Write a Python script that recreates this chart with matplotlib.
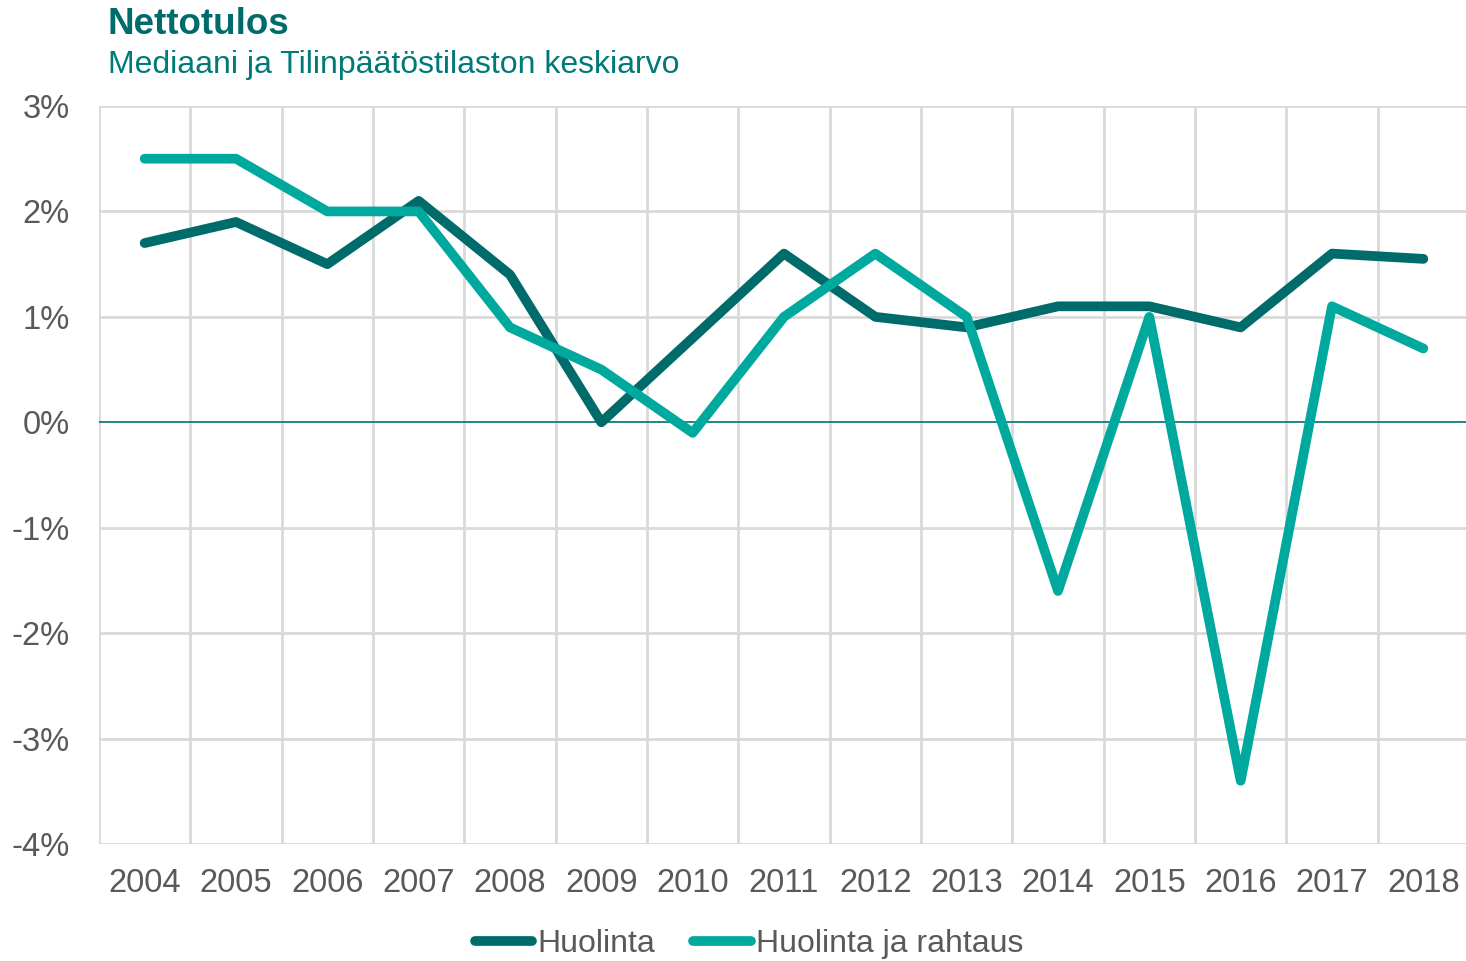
import matplotlib
matplotlib.use("Agg")
import matplotlib.pyplot as plt
from matplotlib.lines import Line2D

plt.rcParams['font.family'] = ['Liberation Sans', 'DejaVu Sans']

years = ["2004", "2005", "2006", "2007", "2008", "2009", "2010", "2011",
         "2012", "2013", "2014", "2015", "2016", "2017", "2018"]
huolinta = [1.7, 1.9, 1.5, 2.1, 1.4, 0.0, 0.8, 1.6, 1.0, 0.9, 1.1, 1.1, 0.9, 1.6, 1.55]
huolinta_rahtaus = [2.5, 2.5, 2.0, 2.0, 0.9, 0.5, -0.1, 1.0, 1.6, 1.0, -1.6, 1.0, -3.4, 1.1, 0.7]
yticks = [3, 2, 1, 0, -1, -2, -3, -4]
ytick_labels = ["3%", "2%", "1%", "0%", "-1%", "-2%", "-3%", "-4%"]

dark = "#006B6B"
light = "#00A99D"
grid_c = "#D9D9D9"
text_c = "#595959"

W, H = 1466, 961
fig = plt.figure(figsize=(W / 100, H / 100), dpi=100)
ax = fig.add_axes([99 / W, 1 - 844 / H, (1469 - 99) / W, (844 - 106) / H])

x = list(range(len(years)))
ax.set_xlim(-0.5, len(years) - 0.5)
ax.set_ylim(-4, 3)

# gridlines
for yv in yticks:
    if yv != 0:
        ax.axhline(yv, color=grid_c, lw=2, zorder=1)
for i in range(len(years)):
    ax.axvline(i - 0.5, color=grid_c, lw=2, zorder=1)
ax.axhline(0, color="#00706E", lw=1.2, zorder=2)

ax.plot(x, huolinta, color=dark, lw=7, solid_capstyle='round', solid_joinstyle='round', zorder=3)
ax.plot(x, huolinta_rahtaus, color=light, lw=7, solid_capstyle='round', solid_joinstyle='round', zorder=4)

for s in ax.spines.values():
    s.set_visible(False)
ax.set_xticks(x)
ax.set_xticklabels(years)
ax.set_yticks(yticks)
ax.set_yticklabels(ytick_labels)
ax.tick_params(length=0, labelsize=23.5, colors=text_c)
ax.tick_params(axis='x', pad=17)
ax.tick_params(axis='y', pad=21)

fig.text(108 / W, 1 - 25 / H, "Nettotulos", fontsize=26.5, fontweight='bold',
         color="#006B6B", va='center', ha='left')
fig.text(108 / W, 1 - 65 / H, "Mediaani ja Tilinpäätöstilaston keskiarvo", fontsize=23,
         color="#007A78", va='center', ha='left')

handles = [Line2D([0], [0], color=dark, lw=7, solid_capstyle='round'),
           Line2D([0], [0], color=light, lw=7, solid_capstyle='round')]
fig.legend(handles, ["Huolinta", "Huolinta ja rahtaus"], loc='center',
           bbox_to_anchor=(749 / W, 1 - 944 / H), ncol=2, frameon=False,
           fontsize=23, labelcolor=text_c, handlelength=1.8, handletextpad=0.15,
           columnspacing=1.2)

fig.savefig("out.png", dpi=100)
